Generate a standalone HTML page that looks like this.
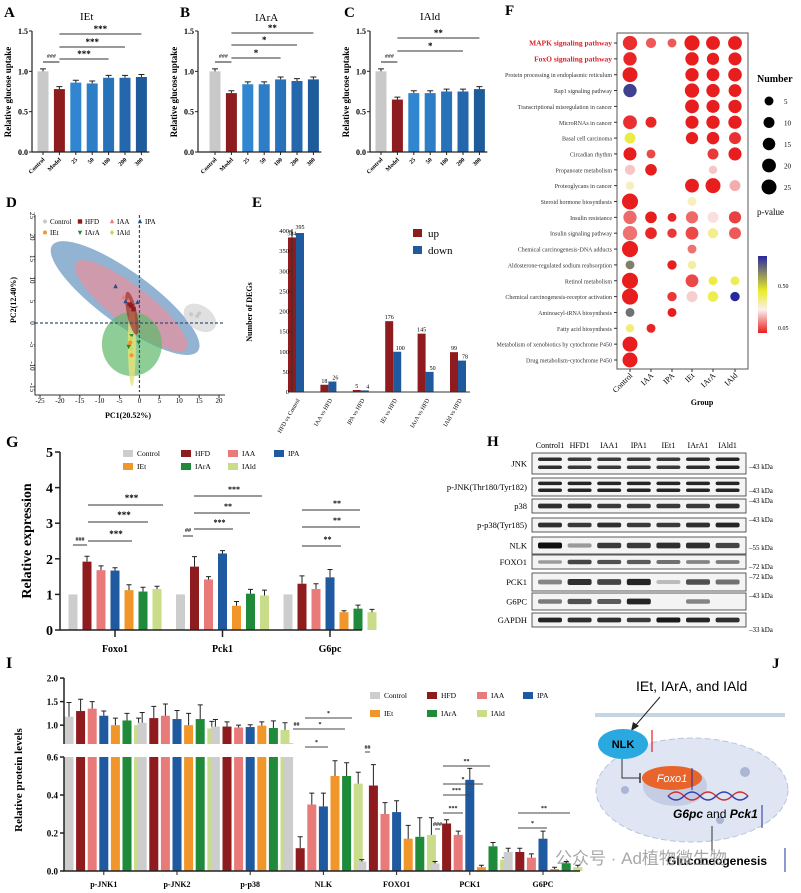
<!DOCTYPE html>
<html><head><meta charset="utf-8">
<style>
html,body{margin:0;padding:0;background:#fff;}
svg{display:block;font-family:"Liberation Serif","Noto Sans CJK SC",serif;}
</style></head>
<body>
<svg id="fig" width="801" height="893" viewBox="0 0 801 893" xmlns="http://www.w3.org/2000/svg">
<rect width="801" height="893" fill="#fff"/>
<g font-weight="bold" font-size="15">
<text x="4" y="17">A</text>
<text x="180" y="17">B</text>
<text x="344" y="17">C</text>
<text x="505" y="15">F</text>
<text x="6" y="207">D</text>
<text x="252" y="207">E</text>
<text x="6" y="447" font-size="16">G</text>
<text x="487" y="446">H</text>
<text x="6" y="668" font-size="16">I</text>
<text x="772" y="668">J</text>
</g>
<g font-size="11">
<text x="80" y="20">IEt</text>
<text x="255" y="21">IArA</text>
<text x="420" y="20">IAld</text>
</g>
<g id="panelJ">
<text x="636" y="691" font-size="14" font-family="Liberation Sans, sans-serif">IEt, IArA, and IAld</text>
<line x1="595" y1="715" x2="785" y2="715" stroke="#c5d5e2" stroke-width="4"/>
<line x1="660" y1="697" x2="635" y2="726" stroke="#222" stroke-width="1"/>
<polygon points="631,731 633,722 639,726" fill="#222"/>
<ellipse cx="692" cy="790" rx="96" ry="52" fill="#dfe5f2" stroke="#b8c4dc" stroke-dasharray="6 3"/>
<ellipse cx="675" cy="786" rx="32" ry="20" fill="#c5cde4"/>
<circle cx="625" cy="790" r="4" fill="#aab6d4"/>
<circle cx="745" cy="772" r="5" fill="#aab6d4"/>
<circle cx="720" cy="820" r="4" fill="#aab6d4"/>
<ellipse cx="623" cy="744" rx="25" ry="15" fill="#2aa9e0"/>
<text x="623" y="748" font-size="11" text-anchor="middle" font-family="Liberation Sans, sans-serif" font-weight="bold">NLK</text>
<line x1="652" y1="752" x2="652" y2="730" stroke="#e02020" stroke-width="1.2"/>
<polyline points="622,759 622,778 640,778" fill="none" stroke="#333"/>
<line x1="640" y1="773" x2="640" y2="783" stroke="#333" stroke-width="1.5"/>
<ellipse cx="672" cy="778" rx="30" ry="12" fill="#e8642a"/>
<text x="672" y="782" font-size="11" fill="#fff" text-anchor="middle" font-style="italic" font-family="Liberation Sans, sans-serif">Foxo1</text>
<line x1="692" y1="768" x2="692" y2="790" stroke="#2030a0"/>
<path d="M668 796 q8 -8 16 0 t16 0 t16 0 t16 0 t16 0" fill="none" stroke="#d03030" stroke-width="1.5"/>
<path d="M668 796 q8 8 16 0 t16 0 t16 0 t16 0 t16 0" fill="none" stroke="#3040b0" stroke-width="1.5"/>
<text x="673" y="818" font-size="12" font-weight="bold" font-family="Liberation Sans, sans-serif"><tspan font-style="italic">G6pc</tspan><tspan font-weight="normal"> and </tspan><tspan font-style="italic">Pck1</tspan></text>
<line x1="762" y1="805" x2="762" y2="828" stroke="#2030a0"/>
<line x1="712" y1="826" x2="712" y2="852" stroke="#333"/>
<text x="667" y="865" font-size="12" font-weight="bold" font-family="Liberation Sans, sans-serif">Gluconeogenesis</text>
<line x1="785" y1="848" x2="785" y2="872" stroke="#2030a0"/>
</g>
<text x="555" y="864" font-size="17" fill="#9a9a9a" font-family="Liberation Sans, 'Noto Sans CJK SC', sans-serif" opacity="0.85">公众号 · Ad植物微生物</text>
</svg>
<script>
const glucoseCats = ['Control','Model','25','50','100','200','300'];
const ietVals  = [1.00,0.78,0.86,0.85,0.92,0.92,0.93];
const iaraVals = [1.00,0.73,0.84,0.84,0.90,0.88,0.90];
const ialdVals = [1.00,0.65,0.73,0.73,0.75,0.75,0.78];
const glucoseTicks = [0,0.5,1.0,1.5];

const pcaX = [-25,-20,-15,-10,-5,0,5,10,15,20];
const pcaY = [25,20,15,10,5,0,-5,-10,-15];
const pcaGroups = ['Control','HFD','IAA','IPA','IEt','IArA','IAld'];
const pcaPtGroup = [0,0,0,1,1,1,2,2,3,3,3,4,4,4,5,5,5,6,6];
const pcaPtX = [13,14.5,15,-2,-1.5,-2.5,-4,-2.8,-6,-3.5,-0.5,-2.3,-2,-2.5,-2,-2.7,-0.2,-2.2,-2];
const pcaPtY = [2,1.6,2.2,4,3.2,4.4,6,5.2,8.5,5,4.8,-4.5,-7.5,-5,-3,-5.5,-4.5,-3.5,-6];
const ellipseCx = [-3.6,-2.1,-1.9,-1.9,-1.9,15.2];
const ellipseCy = [5.8,4.0,-4.9,-4.9,2.3,1.2];

const degCats = ['HFD vs Control','IAA vs HFD','IPA vs HFD','IEt vs HFD','IArA vs HFD','IAld vs HFD'];
const degUp   = [384,18,5,176,145,99];
const degDown = [395,26,4,100,50,78];
const degTicks = [0,50,100,150,200,250,300,350,400];

const keggRows = ['MAPK signaling pathway','FoxO signaling pathway','Protein processing in endoplasmic reticulum','Rap1 signaling pathway','Transcriptional misregulation in cancer','MicroRNAs in cancer','Basal cell carcinoma','Circadian rhythm','Propanoate metabolism','Proteoglycans in cancer','Steroid hormone biosynthesis','Insulin resistance','Insulin signaling pathway','Chemical carcinogenesis-DNA adducts','Aldosterone-regulated sodium reabsorption','Retinol metabolism','Chemical carcinogenesis-receptor activation','Aminoacyl-tRNA biosynthesis','Fatty acid biosynthesis','Metabolism of xenobiotics by cytochrome P450','Drug metabolism-cytochrome P450'];
const keggCols = ['Control','IAA','IPA','IEt','IArA','IAld'];
const keggCount = [
 [22,8,5,26,20,20],[18,0,0,18,14,17],[25,0,0,18,16,19],[18,0,0,22,18,16],[0,0,0,20,17,18],
 [20,10,0,17,18,18],[10,0,0,14,15,13],[17,5,0,0,10,17],[8,12,0,0,4,0],[4,0,0,20,25,10],
 [30,0,0,5,0,0],[18,12,5,14,10,14],[22,12,6,16,8,13],[30,0,0,5,0,0],[5,0,6,4,0,0],
 [30,0,0,16,5,5],[30,0,6,10,9,6],[5,0,5,0,0,0],[4,5,0,0,0,0],[25,0,0,0,0,0],[25,0,0,0,0,0]];
const keggP = [
 [0.07,0.12,0.12,0.02,0.03,0.03],[0.06,0,0,0.03,0.05,0.03],[0.03,0,0,0.03,0.04,0.03],[0.85,0,0,0.03,0.04,0.05],[0,0,0,0.03,0.05,0.04],
 [0.07,0.06,0,0.05,0.04,0.04],[0.47,0,0,0.05,0.04,0.07],[0.04,0.1,0,0,0.08,0.04],[0.25,0.03,0,0,0.25,0],[0.35,0,0,0.05,0.03,0.22],
 [0.02,0,0,0.35,0,0],[0.14,0.05,0.06,0.14,0.28,0.09],[0.15,0.06,0.08,0.1,0.4,0.12],[0.02,0,0,0.15,0,0],[0.72,0,0.04,0.38,0,0],
 [0.02,0,0,0.1,0.47,0.45],[0.02,0,0.08,0.26,0.46,0.92],[0.75,0,0.04,0,0,0],[0.42,0.06,0,0,0,0],[0.02,0,0,0,0,0],[0.02,0,0,0,0,0]];
const sizeLegend = [5,10,15,20,25];

const geneCats = ['Foxo1','Pck1','G6pc'];
const treatNames = ['Control','HFD','IAA','IPA','IEt','IArA','IAld'];
const geneVals = [[1,1.92,1.68,1.67,1.12,1.08,1.15],[1,1.78,1.42,2.15,0.68,1.02,0.97],[1,1.30,1.15,1.48,0.50,0.60,0.50]];
const geneErr  = [[0,0.15,0.12,0.08,0.15,0.12,0.08],[0,0.28,0.08,0.08,0.12,0.12,0.15],[0,0.22,0.15,0.22,0.04,0.1,0.08]];
const geneTicks = [0,1,2,3,4,5];

const protCats = ['p-JNK1','p-JNK2','p-p38','NLK','FOXO1','PCK1','G6PC'];
const protVals = [[1.18,1.30,1.35,1.20,1.00,1.10,1.00],[1.05,1.15,1.20,1.13,1.00,1.13,0.93],[0.97,0.97,0.95,0.96,0.99,0.94,0.90],
 [0.62,0.12,0.35,0.34,0.50,0.50,0.46],[0.05,0.45,0.30,0.31,0.17,0.18,0.19],[0.04,0.25,0.19,0.48,0.02,0.13,0.06],[0.10,0.10,0.07,0.17,0.01,0.04,0.02]];
const protErr = [[0.3,0.25,0.15,0.1,0.15,0.15,0.15],[0.22,0.25,0.25,0.18,0.25,0.3,0.15],[0.15,0.1,0.05,0.05,0.08,0.15,0.15],
 [0,0.06,0.06,0.07,0.08,0.07,0.06],[0.01,0.11,0.06,0.06,0.07,0.1,0.09],[0.01,0.02,0.02,0.06,0.01,0.02,0.01],[0.02,0.02,0.02,0.04,0.01,0.01,0.01]];
const protTicksLow = [0,0.2,0.4,0.6];
const protTicksHigh = [1.0,1.5,2.0];

const blotLanes = ['Control1','HFD1','IAA1','IPA1','IEt1','IArA1','IAld1'];
const blotRows = ['JNK','p-JNK(Thr180/Tyr182)','p38','p-p38(Tyr185)','NLK','FOXO1','PCK1','G6PC','GAPDH'];
const blotKda = ['43 kDa','43 kDa','43 kDa','43 kDa','55 kDa','72 kDa','72 kDa','43 kDa','33 kDa'];
const blotIntensity = [
 [0.85,0.8,0.8,0.8,0.8,0.85,0.9],[0.9,0.9,0.9,0.9,0.9,0.9,0.9],[0.85,0.85,0.8,0.8,0.8,0.8,0.85],[0.85,0.8,0.85,0.8,0.8,0.85,0.9],
 [1.0,0.35,0.8,0.8,0.85,0.85,0.75],[0.35,0.75,0.7,0.65,0.55,0.45,0.5],[0.45,0.85,0.75,0.9,0.2,0.7,0.55],[0.5,0.7,0.65,0.9,0,0.45,0],[0.9,0.85,0.85,0.8,0.95,0.9,0.85]];

const NS='http://www.w3.org/2000/svg';
const svg=document.getElementById('fig');
function mk(tag,a,p){const e=document.createElementNS(NS,tag);for(const k in a)e.setAttribute(k,a[k]);(p||svg).appendChild(e);return e;}
function tx(x,y,s,a,p){const e=mk('text',Object.assign({x:x,y:y},a||{}),p);e.textContent=s;return e;}

const gluColors=['#c9c9c9','#8e1b1e','#3086d0','#2d7ec6','#2872ba','#2467ac','#1e5b9b'];
function gluY(v){return 152-v/1.5*121;}
function glucosePanel(ax,bx0,vals,id,sig){
  const g=mk('g',{});
  
  
  vals.forEach((v,i)=>{
    const cx=bx0+i*16.4;
    const r=mk('rect',{x:cx-5.5,y:gluY(v),width:11,height:152-gluY(v),fill:gluColors[i]},g);
    
    
    const eb=mk('path',{d:`M${cx} ${gluY(v)} V${gluY(v+0.03)} M${cx-3} ${gluY(v+0.03)} H${cx+3}`,stroke:'#222','stroke-width':1},g);
    
    
    const t=tx(cx+2,160,glucoseCats[i],{'font-size':6,'font-weight':'bold','text-anchor':'end',transform:`rotate(-45 ${cx+2} 160)`},g);
    
    
    const tk=mk('line',{x1:cx,x2:cx,y1:152,y2:155,stroke:'#222'},g);
    
    
  });
  const axl=mk('path',{d:`M${ax} ${gluY(1.5)} V152 H${bx0+6*16.4+8}`,stroke:'#222',fill:'none','stroke-width':1.2},g);
  
  
  glucoseTicks.forEach(t=>{
    const l=tx(ax-4,gluY(t)+3,t.toFixed(1),{'font-size':8,'font-weight':'bold','text-anchor':'end'},g);
    
    
    const k=mk('line',{x1:ax-3,x2:ax,y1:gluY(t),y2:gluY(t),stroke:'#222'},g);
    
    
  });
  const yt=tx(ax-21,92,'Relative glucose uptake',{'font-size':9,'font-weight':'bold','text-anchor':'middle',transform:`rotate(-90 ${ax-21} 92)`},g);
  
  
  const c0=bx0, c1=bx0+16.4;
  const hl=mk('line',{x1:c0,x2:c1,y1:62,y2:62,stroke:'#222'},g);
  
  
  const ht=tx((c0+c1)/2,58,'###',{'font-size':6,'text-anchor':'middle','font-style':'italic'},g);
  
  
  sig.forEach(s=>{
    const l=mk('line',{x1:c1,x2:bx0+s[0]*16.4,y1:s[1],y2:s[1],stroke:'#333'},g);
    
    
    const st=tx((c1+bx0+s[0]*16.4)/2,s[1]-2,s[2],{'font-size':9,'font-weight':'bold','text-anchor':'middle'},g);
    
    
  });
}
glucosePanel(32,43,ietVals,'iet',[[4,59,'***'],[5,47,'***'],[6,34,'***']]);
glucosePanel(198,215,iaraVals,'iara',[[4,58,'*'],[5,45,'*'],[6,33,'**']]);
glucosePanel(370,381,ialdVals,'iald',[[5,51,'*'],[6,38,'**']]);

function xD(v){return 40+(v+25)*179/45;}
function yD(v){return 323-v*4.3;}
const dG=mk('g',{});


const elStyle=[{rx:90,ry:26,a:36,f:'#6f9ac4',o:0.75},{rx:70,ry:19,a:38,f:'#e8909a',o:0.7},{rx:30,ry:32,a:0,f:'#5fb86a',o:0.7},{rx:4,ry:42,a:0,f:'#e6e27a',o:0.8},{rx:5,ry:22,a:-12,f:'#a03030',o:0.7},{rx:18,ry:12,a:35,f:'#d8d8d8',o:0.8}];
ellipseCx.forEach((cx,i)=>{
  const s=elStyle[i];const px=xD(cx),py=yD(ellipseCy[i]);
  const e=mk('ellipse',{cx:px,cy:py,rx:s.rx,ry:s.ry,fill:s.f,'fill-opacity':s.o,transform:`rotate(${s.a} ${px} ${py})`},dG);
  
  
});
const pcaCol=['#c8c8c8','#8e1b1e','#e87a7a','#1f4f90','#f0962a','#1e8a3a','#c8dc5a'];
function marker(g,k,x,y,p,s){
  let e;
  if(k===0||k===4) e=mk('circle',{cx:x,cy:y,r:s*0.9,fill:pcaCol[k]},p);
  else if(k===1) e=mk('rect',{x:x-s,y:y-s,width:2*s,height:2*s,fill:pcaCol[k]},p);
  else if(k===2||k===3) e=mk('polygon',{points:`${x},${y-s*1.2} ${x-s},${y+s*0.8} ${x+s},${y+s*0.8}`,fill:pcaCol[k]},p);
  else if(k===5) e=mk('polygon',{points:`${x},${y+s*1.2} ${x-s},${y-s*0.8} ${x+s},${y-s*0.8}`,fill:pcaCol[k]},p);
  else e=mk('polygon',{points:`${x},${y-s*1.2} ${x+s},${y} ${x},${y+s*1.2} ${x-s},${y}`,fill:pcaCol[k]},p);
  return e;
}
pcaPtX.forEach((v,i)=>{
  const e=marker(null,pcaPtGroup[i],xD(v),yD(pcaPtY[i]),dG,2.2);
  
  
});
const dz1=mk('line',{x1:xD(0),x2:xD(0),y1:215,y2:392,stroke:'#3a4d7a','stroke-dasharray':'3 2','stroke-width':1.2},dG);


const dz2=mk('line',{x1:35,x2:225,y1:yD(0),y2:yD(0),stroke:'#3a4d7a','stroke-dasharray':'3 2','stroke-width':1.2},dG);


const dax=mk('path',{d:'M35 215 V395 H225',stroke:'#333',fill:'none'},dG);


pcaX.forEach(v=>{
  const t=tx(xD(v),403,String(v),{'font-size':7,'text-anchor':'middle'},dG);
  
  
  const k=mk('line',{x1:xD(v),x2:xD(v),y1:395,y2:398,stroke:'#333'},dG);
  
  
});
pcaY.forEach(v=>{
  const t=tx(30,yD(v),String(v),{'font-size':7,'text-anchor':'middle',transform:`rotate(90 30 ${yD(v)})`},dG);
  
  
});
const dxt=tx(128,418,'PC1(20.52%)',{'font-size':8,'font-weight':'bold','text-anchor':'middle'},dG);


const dyt=tx(16,300,'PC2(12.40%)',{'font-size':8,'font-weight':'bold','text-anchor':'middle',transform:'rotate(-90 16 300)'},dG);


const legPos=[[45,224],[80,224],[112,224],[140,224],[45,235],[80,235],[112,235]];
pcaGroups.forEach((n,k)=>{
  const m=marker(null,k,legPos[k][0],legPos[k][1]-2.5,dG,2.2);
  
  
  const t=tx(legPos[k][0]+5,legPos[k][1],n,{'font-size':7},dG);
  
  
});

function yE(v){return 392-v/400*161;}
const eG=mk('g',{});


degCats.forEach((c,i)=>{
  const cx=296+i*32.4;
  const r1=mk('rect',{x:cx-8,y:yE(degUp[i]),width:8,height:392-yE(degUp[i]),fill:'#8e1b1e'},eG);
  
  
  const r2=mk('rect',{x:cx,y:yE(degDown[i]),width:8,height:392-yE(degDown[i]),fill:'#1f5a9e'},eG);
  
  
  const l1=tx(cx-4,yE(degUp[i])-2,String(degUp[i]),{'font-size':6,'text-anchor':'middle'},eG);
  
  
  const l2=tx(cx+4+(degDown[i]<150?3:0),yE(degDown[i])-2-(i===0?2:0),String(degDown[i]),{'font-size':6,'text-anchor':'middle'},eG);
  
  
  const xl=tx(cx+4,400,c,{'font-size':6,'text-anchor':'end',transform:`rotate(-60 ${cx+4} 400)`},eG);
  
  
});
const eax=mk('path',{d:'M292 229 V392 H470',stroke:'#333',fill:'none'},eG);


degTicks.forEach(t=>{
  const l=tx(289,yE(t)+2,String(t),{'font-size':6.5,'text-anchor':'end'},eG);
  
  
  const k=mk('line',{x1:289,x2:292,y1:yE(t),y2:yE(t),stroke:'#333'},eG);
  
  
});
const eyt=tx(252,312,'Number of DEGs',{'font-size':8,'font-weight':'bold','text-anchor':'middle',transform:'rotate(-90 252 312)'},eG);


const lu=mk('rect',{x:413,y:229,width:9,height:8,fill:'#8e1b1e'},eG);


const lut=tx(428,237,'up',{'font-size':11},eG);


const ld=mk('rect',{x:413,y:246,width:9,height:8,fill:'#1f5a9e'},eG);


const ldt=tx(428,254,'down',{'font-size':11},eG);



function pColor(p){
  const stops=[[0.05,[232,30,30]],[0.3,[250,240,240]],[0.5,[235,235,40]],[0.9,[40,40,160]]];
  if(p<=stops[0][0])return 'rgb(232,30,30)';
  for(let i=0;i<stops.length-1;i++){const a=stops[i],b=stops[i+1];
    if(p<=b[0]){const t=(p-a[0])/(b[0]-a[0]);return 'rgb('+a[1].map((c,j)=>Math.round(c+(b[1][j]-c)*t)).join(',')+')';}}
  return 'rgb(40,40,160)';
}
function rF(n){return 2+1.1*Math.sqrt(n);}
const fColX=[630,651,672,692,713,735];
function yF(i){return 43+i*15.85;}
const fG=mk('g',{});


const fbox=mk('rect',{x:617,y:33,width:131,height:336,fill:'none',stroke:'#555','stroke-width':1},fG);


keggRows.forEach((name,i)=>{
  const red=i<2;
  const t=tx(612,yF(i)+2.5,name,{'font-size':red?7.5:6,'text-anchor':'end',fill:red?'#e0202a':'#333','font-weight':red?'bold':'normal'},fG);
  
  
  const k=mk('line',{x1:614,x2:617,y1:yF(i),y2:yF(i),stroke:'#333'},fG);
  
  
  keggCols.forEach((c,j)=>{
    const n=keggCount[i][j]; if(!n) return;
    const b=mk('circle',{cx:fColX[j],cy:yF(i),r:rF(n),fill:pColor(keggP[i][j])},fG);
    
    
  });
});
keggCols.forEach((c,j)=>{
  const t=tx(fColX[j]+3,376,c,{'font-size':8,'text-anchor':'end',transform:`rotate(-45 ${fColX[j]+3} 376)`},fG);
  
  
  const k=mk('line',{x1:fColX[j],x2:fColX[j],y1:369,y2:372,stroke:'#333'},fG);
  
  
});
const fxt=tx(702,405,'Group',{'font-size':8,'font-weight':'bold','text-anchor':'middle'},fG);


const nT=tx(757,82,'Number',{'font-size':10,'font-weight':'bold'},fG);


sizeLegend.forEach((n,i)=>{
  const y=101+i*21.5;
  const c=mk('circle',{cx:769,cy:y,r:rF(n),fill:'#000'},fG);
  
  
  const t=tx(784,y+3,String(n),{'font-size':7},fG);
  
  
});
const pT=tx(757,215,'p-value',{'font-size':9},fG);


const defs=mk('defs',{});
const lg=mk('linearGradient',{id:'pgrad',x1:0,y1:1,x2:0,y2:0},defs);
[[0,0.05],[0.3,0.3],[0.55,0.5],[1,0.9]].forEach(s=>mk('stop',{offset:s[0],'stop-color':pColor(s[1])},lg));
const cb=mk('rect',{x:758,y:256,width:9,height:77,fill:'url(#pgrad)'},fG);


const cb1=tx(778,288,'0.50',{'font-size':6},fG);


const cb2=tx(778,330,'0.05',{'font-size':6},fG);



const tCol=['#cdcdcd','#8e1b1e','#e87a7a','#1f5aa0','#f0962a','#1e8a3a','#c8dc8a'];
function yG(v){return 630-v*35.6;}
const gG=mk('g',{});


geneCats.forEach((gc,g)=>{
  const x0=73+g*107.5;
  geneVals[g].forEach((v,i)=>{
    const cx=x0+i*14;
    const r=mk('rect',{x:cx-4.5,y:yG(v),width:9,height:630-yG(v),fill:tCol[i]},gG);
    
    
    if(geneErr[g][i]>0){
      const e=mk('path',{d:`M${cx} ${yG(v)} V${yG(v+geneErr[g][i])} M${cx-2.5} ${yG(v+geneErr[g][i])} H${cx+2.5}`,stroke:'#222'},gG);
      
      
    }
  });
  const cx=x0+3*14;
  const k=mk('line',{x1:cx,x2:cx,y1:630,y2:637,stroke:'#222','stroke-width':1.5},gG);
  
  
  const t=tx(cx,652,gc,{'font-size':10,'font-weight':'bold','text-anchor':'middle'},gG);
  
  
});
const gax=mk('path',{d:'M60 452 V630 H362',stroke:'#222',fill:'none','stroke-width':1.5},gG);


geneTicks.forEach(t=>{
  const l=tx(53,yG(t)+5,String(t),{'font-size':14,'font-weight':'bold','text-anchor':'end'},gG);
  
  
  const k=mk('line',{x1:55,x2:60,y1:yG(t),y2:yG(t),stroke:'#222','stroke-width':1.5},gG);
  
  
});
const gyt=tx(31,541,'Relative expression',{'font-size':14,'font-weight':'bold','text-anchor':'middle',transform:'rotate(-90 31 541)'},gG);


const gSig=[[73,87,545,'###',6],[88,132,541,'***',9],[88,148,522,'***',9],[88,163,505,'***',9],
 [183,193,536,'##',6],[194,233,529,'***',8],[194,250,513,'**',8],[194,262,496,'***',8],
 [302,341,546,'**',8],[302,360,527,'**',8],[302,360,510,'**',8]];
gSig.forEach(s=>{
  const l=mk('line',{x1:s[0],x2:s[1],y1:s[2],y2:s[2],stroke:'#333'},gG);
  
  
  const t=tx((s[0]+s[1])/2+(s[3][0]==='#'?0:6),s[2]-4,s[3],{'font-size':s[4],'font-weight':'bold','text-anchor':'middle'},gG);
  
  
});
const legG=[[123,456],[181,456],[228,456],[274,456],[123,469],[181,469],[228,469]];
treatNames.forEach((n,i)=>{
  const r=mk('rect',{x:legG[i][0],y:legG[i][1]-6,width:10,height:7,fill:tCol[i]},gG);
  
  
  const t=tx(legG[i][0]+14,legG[i][1],n,{'font-size':7.5},gG);
  
  
});

const hG=mk('g',{});


const rowY=[[453,474],[478,496],[499,513],[518,532],[537,554],[555,569],[573,591],[593,610],[613,627]];
const kdaY=[466,490,500,519,547,566,576,595,629];
blotLanes.forEach((l,i)=>{
  const t=tx(550+i*29.6,448,l,{'font-size':8,'text-anchor':'middle'},hG);
  
  
});
blotRows.forEach((rn,r)=>{
  const [y0,y1]=rowY[r];
  const bx=mk('rect',{x:532,y:y0,width:214,height:y1-y0,fill:'#f4f4f4',stroke:'#333','stroke-width':0.8},hG);
  
  
  const t=tx(527,(y0+y1)/2+3,rn,{'font-size':8.5,'text-anchor':'end'},hG);
  
  
  const k=tx(749,kdaY[r]+3,'–'+blotKda[r],{'font-size':7},hG);
  
  
  const dbl=r<2;
  blotIntensity[r].forEach((v,i)=>{
    if(v<=0)return;
    const cx=550+i*29.6;const g=Math.round(230-v*215);
    const ys=dbl?[y0+(y1-y0)*0.3,y0+(y1-y0)*0.68]:[(y0+y1)/2];
    ys.forEach(yy=>{
      const h=dbl?3.5:Math.max(3,(y1-y0)*0.3*(0.6+v*0.6));
      const b=mk('rect',{x:cx-12,y:yy-h/2,width:24,height:h,rx:2,fill:`rgb(${g},${g},${g})`},hG);
      
      
    });
  });
});

function yI(v){return v<=0.6?871-v*190:744-(v-0.6)*47.1;}
const iG=mk('g',{});


protCats.forEach((pc,g)=>{
  const x0=69+g*73.2;
  protVals[g].forEach((v,i)=>{
    const cx=x0+i*11.6;
    if(v<=0.6){
      const r=mk('rect',{x:cx-4.5,y:yI(v),width:9,height:871-yI(v),fill:tCol[i]},iG);
      
      
    } else {
      const r=mk('rect',{x:cx-4.5,y:757,width:9,height:114,fill:tCol[i]},iG);
      
      
      const r2=mk('rect',{x:cx-4.5,y:yI(v),width:9,height:744-yI(v),fill:tCol[i]},iG);
      
      
    }
    const e=protErr[g][i];
    if(e>0){
      const eb=mk('path',{d:`M${cx} ${yI(v)} V${yI(v+e)} M${cx-2.5} ${yI(v+e)} H${cx+2.5}`,stroke:'#222'},iG);
      
      
    }
  });
  const cx=x0+3*11.6;
  const t=tx(cx,887,pc,{'font-size':8,'font-weight':'bold','text-anchor':'middle'},iG);
  
  
  const k=mk('line',{x1:cx,x2:cx,y1:871,y2:875,stroke:'#222'},iG);
  
  
});
const iax=mk('path',{d:'M64 678 V744 M64 757 V871 H580',stroke:'#222',fill:'none','stroke-width':1.5},iG);


protTicksLow.concat(protTicksHigh).forEach(t=>{
  const l=tx(58,yI(t)+3.5,t.toFixed(1),{'font-size':9,'font-weight':'bold','text-anchor':'end'},iG);
  
  
  const k=mk('line',{x1:60,x2:64,y1:yI(t),y2:yI(t),stroke:'#222','stroke-width':1.5},iG);
  
  
});
const iyt=tx(22,780,'Relative protein levels',{'font-size':11,'font-weight':'bold','text-anchor':'middle',transform:'rotate(-90 22 780)'},iG);


const iSig=[[293,300,729,'##'],[305,328,747,'*'],[295,345,729,'*'],[305,352,718,'*'],[365,370,752,'##'],
 [435,440,829,'###'],[443,463,813,'***'],[443,470,795,'***'],[443,483,784,'*'],[443,490,766,'**'],[518,547,828,'*'],[518,570,813,'**']];
iSig.forEach(s=>{
  const l=mk('line',{x1:s[0],x2:s[1],y1:s[2],y2:s[2],stroke:'#444'},iG);
  
  
  const t=tx((s[0]+s[1])/2,s[2]-3,s[3],{'font-size':6,'font-weight':'bold','text-anchor':'middle'},iG);
  
  
});
const legI=[[370,698],[427,698],[477,698],[523,698],[370,716],[427,716],[477,716]];
treatNames.forEach((n,i)=>{
  const r=mk('rect',{x:legI[i][0],y:legI[i][1]-6,width:10,height:7,fill:tCol[i]},iG);
  
  
  const t=tx(legI[i][0]+14,legI[i][1],n,{'font-size':7.5},iG);
  
  
});
</script>
</body></html>
